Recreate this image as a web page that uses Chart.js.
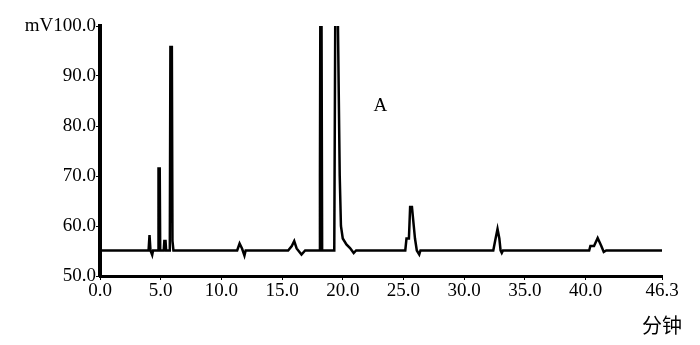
<!DOCTYPE html>
<html><head><meta charset="utf-8">
<script src="https://cdn.jsdelivr.net/npm/chart.js@4/dist/chart.umd.min.js"></script>
<style>html,body{margin:0;padding:0;background:#fff;}#wrap{width:700px;height:345px;}</style>
</head><body><div id="wrap"><canvas id="c" width="700" height="345"></canvas></div>
<script>
// retention time (min) and signal (mV)
const times = [0, 4.0, 4.08, 4.16, 4.3, 4.37, 4.45, 4.78, 4.82, 4.92, 4.96, 5.25, 5.3, 5.4, 5.45, 5.75, 5.8, 5.92, 5.97, 6.05,
  11.3, 11.5, 11.7, 11.9, 12.0, 15.5, 15.8, 16.0, 16.2, 16.6, 16.9,
  18.05, 18.12, 18.15, 18.25, 18.3, 19.3, 19.38, 19.6, 19.75, 19.85, 20.0, 20.3, 20.6, 20.9, 21.1,
  25.15, 25.25, 25.45, 25.55, 25.7, 25.85, 25.95, 26.1, 26.3, 26.4,
  32.4, 32.55, 32.75, 32.9, 33.0, 33.1, 33.2,
  40.3, 40.4, 40.7, 41.0, 41.3, 41.5, 41.7, 46.3];
const signal = [55.1, 55.1, 58.2, 55.1, 54.2, 55.1, 55.1, 55.1, 71.5, 71.5, 55.1, 55.1, 57, 57, 55.1, 55.1, 95.8, 95.8, 57, 55.1,
  55.1, 56.5, 55.5, 54.1, 55.1, 55.1, 56, 57, 55.5, 54.3, 55.1,
  55.1, 70, 101, 101, 55.1, 55.1, 101, 101, 70, 60, 57.5, 56.3, 55.6, 54.6, 55.1,
  55.1, 57.5, 57.5, 63.8, 63.8, 60, 57.5, 55.1, 54.3, 55.1,
  55.1, 57, 59.4, 57.5, 55.1, 54.6, 55.1,
  55.1, 56, 56, 57.6, 56, 54.8, 55.1, 55.1];
const xTicks = [0, 5, 10, 15, 20, 25, 30, 35, 40, 46.3];
const yTicks = [50, 60, 70, 80, 90, 100];
const yUnit = 'mV';
const xTitle = '分钟';
const annotation = {text: 'A', t: 23.1, v: 84};

const pts = times.map((t, i) => ({x: t, y: signal[i]}));
const FONT = '"Liberation Serif", "Times New Roman", serif';

const textPlugin = {
  id: 'textPlugin',
  afterDraw(chart) {
    const {ctx, scales} = chart;
    ctx.save();
    ctx.fillStyle = '#000';
    ctx.font = '19px ' + FONT;
    ctx.textAlign = 'center';
    ctx.textBaseline = 'middle';
    ctx.fillText(annotation.text, scales.x.getPixelForValue(annotation.t), scales.y.getPixelForValue(annotation.v));
    ctx.font = '20px "Noto Sans CJK SC", sans-serif';
    ctx.textAlign = 'right';
    ctx.fillText(xTitle, scales.x.right + 20, scales.x.bottom - 20);
    ctx.restore();
  }
};

new Chart(document.getElementById('c'), {
  type: 'scatter',
  data: {datasets: [{data: pts, showLine: true, borderColor: '#000', borderWidth: 2.5, pointRadius: 0, tension: 0}]},
  options: {
    responsive: false, animation: false,
    layout: {padding: {top: 26, right: 38, left: 0, bottom: 0}},
    plugins: {legend: {display: false}, tooltip: {enabled: false}},
    scales: {
      x: {
        type: 'linear', min: 0, max: 46.3,
        afterBuildTicks: s => { s.ticks = xTicks.map(v => ({value: v})); },
        afterFit: s => { s.height = 69; },
        grid: {drawOnChartArea: false, drawTicks: true, tickLength: 4, color: '#000'},
        border: {color: '#000', width: 3},
        ticks: {color: '#000', font: {family: FONT, size: 19}, padding: 0, maxRotation: 0, autoSkip: false,
          callback: v => Number(v).toFixed(1)}
      },
      y: {
        min: 50, max: 100,
        afterBuildTicks: s => { s.ticks = yTicks.map(v => ({value: v})); },
        afterFit: s => { s.width = 100; },
        grid: {drawOnChartArea: false, drawTicks: true, tickLength: 4, color: '#000'},
        border: {color: '#000', width: 4},
        ticks: {color: '#000', font: {family: FONT, size: 19}, padding: 0,
          callback: v => (v === 100 ? yUnit : '') + Number(v).toFixed(1)}
      }
    }
  },
  plugins: [textPlugin]
});
</script></body></html>
